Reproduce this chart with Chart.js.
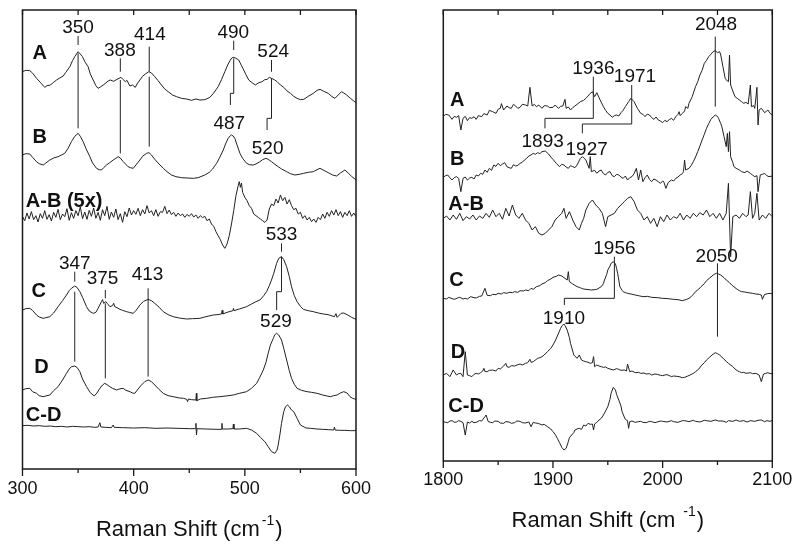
<!DOCTYPE html>
<html>
<head>
<meta charset="utf-8">
<script src="https://cdn.jsdelivr.net/npm/chart.js@4"></script>
<style>
html, body { margin: 0; padding: 0; background: #fff; }
#wrap { position: relative; width: 800px; height: 546px; }
.panel { position: absolute; top: 0; width: 400px; height: 546px; }
</style>
</head>
<body>
<div id="wrap">
  <div class="panel" style="left:0"><canvas id="left_chart"></canvas></div>
  <div class="panel" style="left:400px"><canvas id="right_chart"></canvas></div>
</div>
<script>
// spectra: [Raman shift, stacked intensity (arb.)]
// left panel, 300-600 cm-1
const lowA = [[300,1192],[303,1196],[306.6,1195],[309,1188],[312.6,1172],[316,1160],[320,1145],[322,1150],[325,1152],[328,1160],[330.6,1167],[333,1172],[336.6,1179],[339,1190],[342.6,1207],[345,1225],[347,1237],[350,1252],[352,1245],[354,1237],[356,1222],[359,1207],[361,1185],[363.6,1167],[366,1150],[368,1142],[370,1146],[372.6,1152],[375,1158],[377,1164],[379,1167],[382,1163],[385,1169],[388.6,1175],[390,1170],[392.5,1162],[394,1166],[396.6,1149],[399,1152],[401.5,1145],[403,1155],[405.6,1167],[408,1178],[410.5,1185],[413.7,1192],[416,1188],[419,1177],[422,1165],[425,1152],[428,1140],[431,1132],[435,1122],[438.6,1117],[443,1112],[447.6,1110],[452,1106],[456,1110],[459.6,1107],[464,1108],[468.6,1115],[472,1128],[476,1147],[479,1168],[482,1192],[485,1215],[487,1227],[488.5,1234],[490,1235],[492,1232],[494.5,1227],[497,1210],[499,1197],[501,1183],[503.5,1167],[506,1160],[509.5,1152],[512,1158],[515.5,1162],[518,1168],[520,1169],[522,1175],[524,1172],[526.5,1168],[529,1162],[532,1152],[535,1145],[538,1134],[541,1127],[544,1118],[547,1112],[550,1108],[553,1109],[557,1118],[561.6,1127],[565,1136],[567.6,1139],[571,1133],[575,1127],[578,1118],[581,1112],[584,1122],[587,1132],[589,1128],[591.6,1122],[595,1112],[598,1104],[600,1099]];
const lowB = [[300,942],[303,946],[306.6,945],[309,935],[312.6,922],[315,916],[318.6,912],[321,918],[324.6,927],[328,933],[332,937],[335,942],[338,947],[341,962],[344,982],[347,998],[350,1007],[352,998],[354.6,982],[357,962],[360.6,937],[363,918],[366.6,902],[369,898],[371,897],[373,904],[375.6,912],[378,918],[381.6,927],[384,932],[386,937],[388,933],[390.6,922],[393,914],[395,907],[397,904],[399.6,902],[402,912],[405.6,927],[408,938],[411.6,947],[413.7,949],[416,942],[419,929],[422,918],[426.6,902],[430,892],[434,882],[438,877],[443,874],[448,873],[453.6,872],[458,874],[464,882],[468,890],[471,900],[474.6,917],[477,932],[480.6,957],[483,978],[485,992],[487,1000],[488,1002],[489.5,999],[491,992],[493,972],[495.6,947],[498,932],[501.6,917],[504,913],[507.6,912],[510,915],[513.6,922],[516,928],[519,932],[521,929],[524,922],[527,914],[530,907],[533,900],[537.6,892],[541,886],[545,882],[549,884],[553,887],[557,890],[561.6,892],[565,898],[567.6,902],[571,896],[575,889],[579,882],[582.6,879],[586,888],[590,897],[593,888],[596,878],[600,867]];
const lowAB = [[300,757],[302,745],[304,768],[306,750],[308,772],[310,748],[312,760],[314,741],[316,766],[318,752],[320,775],[322,749],[324,763],[326,744],[328,770],[330,755],[332,779],[334,748],[336,765],[338,757],[340,781],[342,746],[344,769],[346,752],[348,775],[350,760],[352,786],[354,751],[356,771],[358,749],[360,776],[362,758],[364,783],[366,752],[368,770],[370,746],[372,778],[374,760],[376,788],[378,749],[380,771],[382,755],[384,780],[386,748],[388,766],[390,740],[392,772],[394,757],[396,783],[398,762],[400,775],[402,764],[404,782],[406,760],[408,778],[410,765],[412,790],[414,768],[416,775],[418,760],[420,778],[422,758],[424,772],[426,770],[428,788],[430,766],[432,777],[434,763],[436,770],[438,758],[440,768],[442,760],[444,765],[446,755],[448,764],[450,758],[452,766],[454,756],[456,762],[458,752],[460,760],[462,754],[464,758],[466,745],[468,750],[470,735],[472,728],[474,712],[476,700],[478,688],[480,672],[482,662],[484,675],[486,700],[488,735],[490,775],[492,820],[494,850],[495,862],[496,845],[497,858],[498,830],[500,815],[502,805],[504,790],[506,782],[508,765],[510,760],[512,755],[514,750],[516,745],[518,740],[520,747],[522,780],[524,795],[526,790],[528,810],[530,798],[532,822],[534,805],[536,815],[538,795],[540,808],[542,790],[544,778],[546,782],[548,765],[550,770],[552,752],[554,760],[556,747],[558,755],[560,742],[562,750],[564,740],[566,755],[568,748],[570,765],[572,752],[574,770],[576,758],[578,775],[580,762],[582,778],[584,760],[586,772],[588,755],[590,770],[592,760],[594,775],[596,758],[598,768],[600,757]];
const lowC = [[300,477],[303,481],[306.6,482],[309,476],[312.6,462],[315,456],[318.6,452],[321,454],[324.6,457],[328,468],[332,487],[336,505],[339.6,522],[342,535],[344,542],[347,549],[349,545],[351.6,532],[354,515],[357.6,487],[360,474],[363.6,467],[366,470],[368,482],[370,495],[371,502],[372,508],[373,497],[375,502],[376.5,496],[378.6,487],[381,490],[382,497],[383,487],[385,484],[387.6,479],[390,476],[393.6,472],[396,470],[399.6,467],[402,475],[405.6,492],[409,503],[413,509],[416,505],[419,497],[423,485],[426.6,472],[431,463],[435.6,457],[441,453],[447.6,450],[453,451],[459.6,452],[465,457],[471.6,462],[475,463],[479,465],[479.6,476],[480.2,465],[484,470],[489.3,475],[489.8,482],[490.3,475],[495,480],[501.6,487],[506,495],[510,502],[513.6,507],[517,520],[519.6,532],[522,550],[524,567],[526,587],[528.6,617],[530.5,632],[533,637],[535,628],[537.6,607],[540,577],[542,547],[544.5,520],[547,502],[550,488],[552.6,479],[557,475],[561.6,472],[566,468],[570.6,465],[575,463],[580.6,457],[582,466],[583,455],[586.6,467],[589,468],[592.6,462],[596,455],[600,449]];
const lowD = [[300,237],[303,241],[306.6,242],[309,232],[312.6,227],[315,220],[318.6,217],[321,219],[324.6,222],[328,235],[332,247],[336,267],[339.6,287],[342,300],[344,307],[347,309],[349,305],[351.6,292],[354,270],[357.6,247],[361,229],[364.5,219],[367,228],[369.6,242],[372,252],[374,257],[376,253],[378.6,247],[381,242],[384.6,237],[387,240],[390.6,242],[393,236],[396.6,232],[399,228],[401,227],[404,240],[407,252],[410,262],[413,267],[416,262],[419,252],[423,238],[426.6,227],[431,220],[435.6,217],[441,213],[445,212],[447.6,209],[448.5,202],[449.2,210],[452,208],[456,207],[456.4,227],[456.8,205],[460,210],[465.6,212],[471,215],[477.6,217],[483,219],[489.6,222],[495,227],[501.6,232],[506,242],[510.6,257],[513,272],[516.6,297],[519,320],[521,347],[523,372],[525.6,392],[527,403],[528.6,407],[530.5,402],[533,387],[535,362],[537.6,327],[540,295],[542,272],[544.5,254],[547,242],[551,236],[556,232],[560,230],[565,227],[570,222],[574,219],[577,217],[580,220],[583,222],[586,228],[589,232],[592,228],[594.6,217],[597,212],[600,209]];
const lowCD = [[300,130],[305,131],[310,129],[315,130],[320,128],[325,129],[330,127],[335,128],[340,126],[345,128],[350,127],[355,126],[360,127],[365,125],[368,126],[369.6,139],[370.5,126],[375,125],[380,124],[381.6,132],[382.5,125],[390,124],[400,123],[410,124],[420,122],[430,123],[440,122],[450,121],[455.5,121],[456,137],[456.5,102],[457,121],[465,120],[475,119],[479,119],[479.4,137],[479.8,120],[485,120],[489.3,121],[489.7,135],[490.2,120],[495,120],[501.6,122],[506,117],[510.6,107],[514,95],[518,82],[521,67],[524,52],[527,47],[529,57],[530,72],[531.5,102],[533,137],[535,172],[536.6,187],[538.5,192],[540,187],[542,177],[544,172],[547,152],[550,132],[555,123],[559,122],[565,120],[570,119],[575,118],[580,117],[580.6,126],[581.2,117],[585,116],[590,116],[595,115],[600,115]];

// right panel, 1800-2100 cm-1
const highA = [[1800,1033],[1802,1040],[1805,1038],[1808,1025],[1810,1034],[1812,1031],[1814,1036],[1816,993],[1818,1028],[1820,1034],[1822,1021],[1824,1030],[1826,1028],[1828,1033],[1830,1025],[1832,1036],[1835,1033],[1837,1042],[1840,1038],[1842,1052],[1845,1048],[1848,1043],[1850,1055],[1852,1058],[1853,1072],[1855,1053],[1858,1065],[1860,1060],[1862,1058],[1864,1070],[1866,1065],[1868,1058],[1870,1061],[1872,1070],[1875,1068],[1877,1065],[1879,1121],[1881,1065],[1883,1070],[1885,1063],[1887,1068],[1890,1058],[1892,1066],[1895,1065],[1897,1060],[1900,1061],[1902,1068],[1905,1058],[1907,1064],[1909,1065],[1911,1085],[1912,1058],[1914,1062],[1916,1053],[1918,1060],[1920,1065],[1922,1070],[1925,1078],[1928,1082],[1930,1088],[1932,1095],[1934,1103],[1936,1108],[1938,1093],[1940,1105],[1943,1083],[1946,1063],[1948,1052],[1950,1043],[1952,1038],[1954,1031],[1956,1036],[1958,1038],[1960,1035],[1962,1045],[1964,1052],[1966,1063],[1969,1078],[1971,1088],[1974,1078],[1977,1058],[1980,1043],[1982,1040],[1984,1033],[1986,1041],[1988,1038],[1990,1030],[1992,1025],[1994,1032],[1996,1023],[1998,1020],[2000,1015],[2002,1022],[2004,1018],[2006,1024],[2008,1028],[2010,1022],[2012,1033],[2014,1040],[2015,1048],[2016,1036],[2018,1043],[2020,1050],[2021,1063],[2023,1058],[2024,1073],[2027,1093],[2030,1123],[2032,1138],[2034,1158],[2036,1172],[2038,1193],[2040,1202],[2042,1213],[2044,1220],[2046,1228],[2048,1231],[2050,1225],[2052,1228],[2053,1218],[2055,1183],[2057,1148],[2059,1140],[2060,1138],[2061,1218],[2062,1128],[2064,1110],[2066,1093],[2068,1088],[2070,1083],[2072,1078],[2074,1073],[2076,1076],[2078,1071],[2080,1128],[2081,1063],[2083,1066],[2084,1058],[2086,1121],[2087,1008],[2088,1053],[2090,1058],[2093,1045],[2095,1050],[2096,1053],[2098,1043],[2100,1038]];
const highB = [[1800,851],[1802,856],[1804,858],[1806,850],[1808,843],[1810,850],[1812,853],[1814,848],[1816,808],[1818,848],[1820,852],[1822,843],[1824,849],[1826,851],[1828,846],[1830,858],[1832,855],[1834,863],[1836,860],[1838,873],[1840,866],[1842,878],[1844,872],[1846,888],[1848,884],[1850,893],[1852,886],[1854,891],[1856,895],[1858,883],[1860,880],[1862,878],[1864,889],[1866,885],[1868,887],[1870,893],[1872,896],[1874,903],[1876,908],[1878,915],[1880,918],[1882,923],[1884,920],[1886,925],[1888,922],[1890,928],[1893,930],[1896,921],[1898,912],[1900,905],[1903,893],[1906,883],[1908,890],[1910,888],[1912,882],[1914,878],[1916,886],[1918,883],[1920,880],[1922,888],[1925,908],[1927,913],[1930,903],[1933,878],[1934,913],[1935,868],[1938,872],[1940,863],[1942,870],[1944,873],[1946,862],[1948,858],[1950,866],[1952,868],[1954,856],[1956,853],[1958,860],[1960,858],[1962,852],[1964,848],[1966,855],[1968,843],[1970,850],[1972,853],[1974,862],[1976,878],[1978,843],[1980,873],[1982,838],[1984,850],[1986,858],[1988,845],[1990,838],[1992,846],[1994,843],[1996,838],[1998,833],[2000,840],[2001,838],[2003,818],[2005,835],[2008,843],[2010,840],[2012,848],[2014,852],[2016,858],[2018,862],[2019,868],[2020,903],[2021,873],[2024,878],[2026,886],[2028,898],[2030,912],[2032,928],[2034,945],[2036,963],[2038,980],[2040,998],[2042,1012],[2044,1025],[2046,1032],[2048,1038],[2050,1034],[2051,1028],[2053,1012],[2054,1003],[2056,973],[2058,943],[2059,983],[2060,928],[2061,988],[2062,913],[2064,895],[2065,883],[2067,878],[2070,873],[2072,868],[2075,865],[2077,870],[2080,863],[2082,858],[2084,853],[2086,856],[2087,808],[2089,858],[2091,860],[2093,863],[2095,856],[2097,853],[2100,855]];
const highAB = [[1800,728],[1803,735],[1806,723],[1809,738],[1812,725],[1815,743],[1818,721],[1821,733],[1824,726],[1827,738],[1830,723],[1833,735],[1836,728],[1839,743],[1842,731],[1845,753],[1848,733],[1851,743],[1854,725],[1857,758],[1860,735],[1863,768],[1866,738],[1869,728],[1872,743],[1875,723],[1878,713],[1881,693],[1884,703],[1887,683],[1890,678],[1893,683],[1896,693],[1899,703],[1902,723],[1905,733],[1908,743],[1910,758],[1912,728],[1915,748],[1918,723],[1921,703],[1924,693],[1926,713],[1928,728],[1930,753],[1933,773],[1936,783],[1939,768],[1942,758],[1945,743],[1948,703],[1950,733],[1953,738],[1956,743],[1959,758],[1962,768],[1965,778],[1968,788],[1971,793],[1974,778],[1977,753],[1980,743],[1983,723],[1986,733],[1989,713],[1992,728],[1995,703],[1998,733],[2001,718],[2004,738],[2007,723],[2010,733],[2013,728],[2016,743],[2019,723],[2022,738],[2025,728],[2028,743],[2031,733],[2034,745],[2037,738],[2040,753],[2043,733],[2046,743],[2049,728],[2052,743],[2055,723],[2058,743],[2060,833],[2062,613],[2064,733],[2067,738],[2070,728],[2073,743],[2076,733],[2078,738],[2080,808],[2082,728],[2084,743],[2086,803],[2088,723],[2091,738],[2094,728],[2097,743],[2100,733]];
const highC = [[1800,488],[1803,486],[1805,491],[1808,487],[1810,485],[1813,489],[1815,491],[1818,486],[1820,488],[1822,486],[1825,493],[1828,490],[1830,489],[1833,494],[1835,495],[1838,518],[1840,497],[1843,496],[1845,500],[1848,499],[1850,503],[1853,501],[1855,505],[1858,503],[1860,506],[1863,505],[1865,508],[1868,506],[1870,511],[1873,510],[1875,513],[1878,511],[1880,518],[1882,515],[1885,523],[1888,526],[1890,531],[1893,535],[1895,541],[1898,546],[1900,551],[1903,554],[1905,558],[1908,555],[1911,548],[1913,543],[1914,568],[1915,538],[1918,531],[1920,527],[1922,523],[1924,521],[1926,518],[1928,516],[1930,515],[1933,514],[1935,513],[1938,514],[1940,515],[1942,519],[1944,523],[1946,532],[1947,543],[1949,560],[1950,573],[1952,585],[1953,593],[1955,598],[1957,591],[1958,578],[1959,563],[1960,543],[1961,523],[1963,512],[1964,508],[1966,505],[1968,503],[1971,501],[1975,498],[1978,496],[1982,493],[1986,494],[1990,491],[1995,490],[2000,488],[2005,487],[2010,485],[2014,484],[2018,481],[2022,485],[2024,488],[2026,493],[2028,500],[2030,508],[2033,516],[2035,523],[2038,532],[2040,541],[2043,549],[2045,555],[2047,560],[2049,563],[2051,561],[2053,558],[2056,550],[2058,543],[2061,535],[2063,528],[2066,520],[2068,515],[2070,511],[2072,508],[2075,507],[2078,505],[2082,503],[2085,501],[2088,500],[2090,498],[2091,485],[2093,500],[2096,502],[2098,503],[2100,501]];
const highD = [[1800,258],[1803,263],[1806,253],[1808,266],[1809,273],[1812,258],[1814,262],[1816,263],[1818,253],[1820,328],[1822,258],[1824,256],[1826,253],[1828,260],[1830,263],[1832,261],[1834,265],[1836,270],[1837,278],[1838,268],[1840,268],[1842,272],[1845,273],[1848,270],[1850,278],[1852,276],[1855,285],[1857,293],[1858,283],[1860,281],[1862,286],[1865,285],[1868,289],[1870,291],[1872,288],[1875,293],[1877,295],[1879,305],[1880,296],[1882,298],[1884,303],[1886,308],[1888,310],[1890,313],[1892,318],[1895,328],[1898,338],[1900,348],[1902,360],[1904,375],[1907,398],[1908,405],[1910,411],[1911,406],[1913,393],[1915,370],[1916,353],[1918,330],[1919,318],[1922,308],[1924,318],[1926,303],[1928,300],[1930,298],[1932,296],[1934,293],[1936,295],[1937,313],[1938,283],[1940,288],[1942,285],[1944,283],[1946,281],[1948,282],[1950,278],[1952,276],[1955,273],[1958,277],[1960,275],[1962,272],[1965,273],[1967,270],[1968,291],[1970,268],[1972,270],[1975,265],[1978,266],[1980,263],[1983,264],[1985,261],[1988,262],[1990,258],[1993,261],[1995,260],[1998,257],[2000,256],[2003,259],[2005,258],[2008,253],[2010,255],[2013,254],[2015,253],[2018,250],[2020,251],[2023,255],[2025,258],[2028,263],[2030,268],[2033,276],[2035,285],[2038,295],[2040,303],[2043,312],[2045,318],[2048,325],[2050,322],[2052,318],[2054,312],[2056,305],[2058,299],[2060,293],[2062,288],[2064,283],[2066,276],[2068,271],[2070,268],[2072,265],[2074,266],[2076,263],[2078,264],[2080,265],[2082,262],[2085,263],[2088,258],[2090,238],[2092,261],[2094,263],[2096,265],[2098,262],[2100,263]];
const highCD = [[1800,118],[1802,116],[1804,115],[1806,120],[1808,121],[1810,116],[1812,117],[1814,121],[1816,119],[1818,115],[1820,78],[1822,117],[1824,114],[1826,119],[1828,115],[1830,116],[1833,121],[1835,120],[1838,133],[1839,138],[1841,118],[1843,116],[1845,115],[1847,120],[1850,119],[1852,114],[1855,113],[1857,118],[1860,117],[1862,113],[1865,115],[1867,120],[1870,119],[1872,115],[1875,114],[1878,117],[1880,103],[1882,116],[1884,114],[1886,113],[1888,111],[1890,108],[1892,110],[1895,103],[1898,96],[1900,88],[1902,80],[1904,68],[1906,55],[1908,41],[1910,33],[1912,38],[1914,58],[1915,70],[1917,78],[1919,85],[1920,93],[1922,96],[1924,98],[1926,95],[1928,108],[1930,105],[1932,113],[1934,110],[1936,111],[1937,93],[1938,111],[1940,116],[1942,123],[1944,128],[1946,138],[1948,150],[1950,163],[1952,185],[1953,203],[1955,221],[1957,213],[1958,200],[1960,183],[1962,165],[1963,148],[1965,132],[1966,125],[1968,121],[1969,98],[1970,118],[1972,120],[1975,116],[1978,118],[1980,119],[1982,116],[1985,115],[1988,119],[1990,118],[1993,115],[1995,117],[1998,120],[2000,119],[2004,117],[2008,121],[2010,118],[2014,116],[2018,121],[2020,121],[2024,118],[2028,122],[2030,119],[2034,117],[2038,122],[2040,121],[2044,119],[2048,123],[2051,120],[2055,120],[2058,116],[2060,121],[2064,119],[2067,123],[2070,119],[2074,121],[2077,117],[2080,121],[2084,119],[2087,122],[2090,123],[2093,118],[2095,121],[2098,119],[2100,122]];

// peak labels [text, shift, height]
const lowPeaks = [['350', 350, 1325], ['388', 387.6, 1255], ['414', 414.6, 1302], ['490', 489.6, 1309], ['524', 525.5, 1252], ['487', 486, 1037], ['520', 520.5, 962], ['533', 533, 702], ['529', 528, 442], ['347', 347, 617], ['375', 372, 572], ['413', 412.5, 582]];
const highPeaks = [['2048', 2048.7, 1308], ['1936', 1936.8, 1178], ['1971', 1974.8, 1153], ['1893', 1890.6, 958], ['1927', 1930.7, 935], ['1956', 1956, 638], ['1910', 1910, 428], ['2050', 2049.3, 613]];

// leader lines joining the peaks
const lowLeaders = [
  [[350, 1299], [350, 1272]], [[350, 1247], [350, 1022]],
  [[388, 1232], [388, 1192]], [[388, 1167], [388, 947]],
  [[414, 1267], [414, 1192]], [[414, 1177], [414, 967]],
  [[490, 1285], [490, 1257]], [[490, 1232], [490, 1127], [487, 1127], [487, 1092]],
  [[524, 1227], [524, 1192]], [[524, 1172], [524, 1052], [520, 1052], [520, 1017]],
  [[533, 677], [533, 652]], [[533, 637], [533, 532], [528.6, 532], [528.6, 477]],
  [[347, 592], [347, 562]], [[347, 532], [347, 322]],
  [[374.5, 537], [374.5, 512]], [[374.5, 497], [374.5, 272]],
  [[413, 542], [413, 277]]
];
const highLeaders = [
  [[2048, 1273], [2048, 1063]],
  [[1936.8, 1153], [1936.8, 1028], [1892.7, 1028], [1892.7, 998]],
  [[1971.8, 1128], [1971.8, 1011], [1926.8, 1011], [1926.8, 983]],
  [[1956, 613], [1956, 488], [1910.4, 488], [1910.4, 468]],
  [[2050, 593], [2050, 373]]
];

// trace names [text, shift, height]
const lowNames = [['A', 309, 1247], ['B', 309, 995], ['A-B (5x)', 303, 802], ['C', 308, 532], ['D', 310.5, 305], ['C-D', 303, 162]];
const highNames = [['A', 1806, 1083], ['B', 1806, 905], ['A-B', 1804.6, 771], ['C', 1805.5, 541], ['D', 1806.7, 325], ['C-D', 1804.6, 163]];

const FONT = '"Liberation Sans", Arial, sans-serif';

const decor = {
  id: 'decor',
  afterDatasetsDraw(chart, args, o) {
    const ctx = chart.ctx, a = chart.chartArea, x = chart.scales.x, y = chart.scales.y;
    ctx.save();
    ctx.strokeStyle = '#1a1a1a';
    ctx.lineWidth = 1.5;
    ctx.strokeRect(a.left, a.top, a.right - a.left, a.bottom - a.top);
    ctx.lineWidth = 1.3;
    ctx.fillStyle = '#111';
    ctx.font = '18px ' + FONT;
    ctx.textAlign = 'center';
    ctx.textBaseline = 'middle';
    x.ticks.forEach(t => {
      const v = t.value;
      const px = x.getPixelForValue(v);
      const major = v % 100 === 0;
      ctx.beginPath();
      ctx.moveTo(px, a.bottom); ctx.lineTo(px, a.bottom + (major ? 7 : 4));
      ctx.moveTo(px, a.top); ctx.lineTo(px, a.top + 5);
      ctx.stroke();
      if (major) ctx.fillText(String(v), px, a.bottom + o.labelDy);
    });
    ctx.lineWidth = 1;
    ctx.strokeStyle = '#222';
    o.leaders.forEach(pts => {
      ctx.beginPath();
      pts.forEach(([vx, vy], i) => {
        const X = x.getPixelForValue(vx), Y = y.getPixelForValue(vy);
        if (i) ctx.lineTo(X, Y); else ctx.moveTo(X, Y);
      });
      ctx.stroke();
    });
    ctx.font = '19px ' + FONT;
    o.peaks.forEach(([t, vx, vy]) => ctx.fillText(t, x.getPixelForValue(vx), y.getPixelForValue(vy)));
    ctx.textAlign = 'left';
    ctx.font = 'bold 20px ' + FONT;
    o.names.forEach(([t, vx, vy]) => ctx.fillText(t, x.getPixelForValue(vx), y.getPixelForValue(vy)));

    // axis title with superscript
    ctx.textBaseline = 'alphabetic';
    const big = '22px ' + FONT, small = '14px ' + FONT;
    const main = 'Raman Shift (cm';
    ctx.font = big;
    const w1 = ctx.measureText(main).width;
    const w3 = ctx.measureText(')').width;
    ctx.font = small;
    const w2 = ctx.measureText('-1').width;
    const total = w1 + o.supGap + w2 + 1 + w3;
    let cx = (a.left + a.right) / 2 - total / 2;
    const base = a.bottom + o.titleDy;
    ctx.font = big;
    ctx.fillText(main, cx, base);
    cx += w1 + o.supGap;
    ctx.font = small;
    ctx.fillText('-1', cx, base - 11);
    cx += w2 + 1;
    ctx.font = big;
    ctx.fillText(')', cx, base);
    ctx.restore();
  }
};

function makeChart(id, traces, cfg) {
  return new Chart(id, {
    type: 'line',
    data: {
      datasets: traces.map(t => ({
        data: t, borderColor: '#222', borderWidth: 1, pointRadius: 0, tension: 0, fill: false
      }))
    },
    options: {
      responsive: true,
      maintainAspectRatio: false,
      animation: false,
      layout: { padding: cfg.padding },
      plugins: { legend: { display: false }, tooltip: { enabled: false }, decor: cfg },
      scales: {
        x: {
          type: 'linear', min: cfg.xMin, max: cfg.xMax,
          border: { display: false },
          grid: { display: false, drawTicks: false },
          ticks: { stepSize: 50, autoSkip: false, maxRotation: 0, display: false },
          afterFit: s => { s.height = 77; }
        },
        y: { display: false, min: 0, max: cfg.yMax }
      }
    },
    plugins: [decor]
  });
}

makeChart('left_chart', [lowA, lowB, lowAB, lowC, lowD, lowCD], {
  xMin: 300, xMax: 600, yMax: 1377,
  padding: { left: 22.5, right: 44, top: 10, bottom: 0 },
  labelDy: 20, titleDy: 67, supGap: 2,
  peaks: lowPeaks, leaders: lowLeaders, names: lowNames
});
makeChart('right_chart', [highA, highB, highAB, highC, highD, highCD], {
  xMin: 1800, xMax: 2100, yMax: 1353,
  padding: { left: 43.3, right: 27.7, top: 10, bottom: 8 },
  labelDy: 19, titleDy: 66, supGap: 8,
  peaks: highPeaks, leaders: highLeaders, names: highNames
});
</script>
</body>
</html>
